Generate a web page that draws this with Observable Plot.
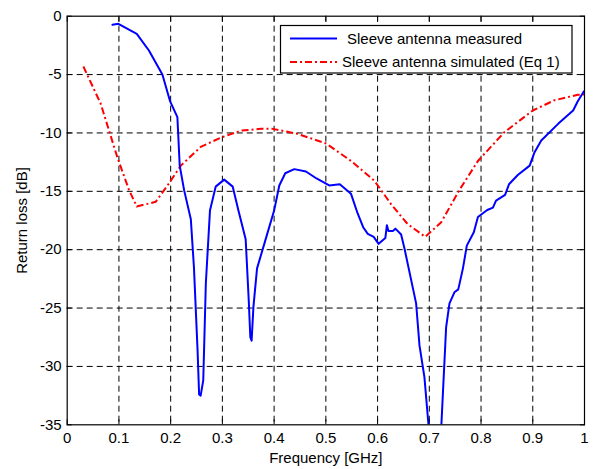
<!DOCTYPE html>
<html>
<head>
<meta charset="utf-8">
<script src="https://cdn.jsdelivr.net/npm/d3@7"></script>
<script src="https://cdn.jsdelivr.net/npm/@observablehq/plot@0.6"></script>
<style>
  html, body { margin: 0; padding: 0; background: #fff; }
  #wrap { position: relative; width: 593px; height: 469px; }
  #wrap svg { display: block; }
  #legend { position: absolute; left: 0; top: 0; }
</style>
</head>
<body>
<div id="wrap"></div>
<script>
// ---- data ----
const measuredFreq = [0.0875, 0.099, 0.1345, 0.158, 0.184, 0.199, 0.213, 0.2175, 0.226, 0.239, 0.245, 0.252, 0.255, 0.258, 0.263, 0.268, 0.276, 0.287, 0.3035, 0.32, 0.331, 0.345, 0.351, 0.354, 0.3565, 0.36, 0.367, 0.381, 0.400, 0.41, 0.4215, 0.439, 0.4615, 0.482, 0.5065, 0.527, 0.5485, 0.5615, 0.5725, 0.581, 0.5925, 0.602, 0.615, 0.618, 0.621, 0.6295, 0.6345, 0.6455, 0.652, 0.6745, 0.681, 0.6905, 0.699, 0.711, 0.723, 0.7325, 0.739, 0.7485, 0.756, 0.765, 0.7725, 0.786, 0.794, 0.812, 0.823, 0.829, 0.8465, 0.854, 0.871, 0.894, 0.9035, 0.9164, 0.949, 0.978, 0.987, 0.999];
const measuredDb = [-0.74, -0.65, -1.51, -2.94, -5.0, -7.3, -8.65, -12.8, -14.9, -17.4, -21.5, -28.6, -32.4, -32.5, -31.2, -22.9, -16.65, -14.6, -14.0, -14.6, -16.65, -19.1, -24.4, -27.5, -27.8, -24.9, -21.6, -19.5, -16.65, -14.5, -13.45, -13.1, -13.3, -13.9, -14.5, -14.4, -15.2, -16.9, -18.1, -18.65, -18.9, -19.5, -19.0, -17.9, -18.4, -18.4, -18.2, -18.7, -19.9, -24.6, -28.2, -30.9, -35.3, -40, -35.3, -26.65, -24.6, -23.65, -23.4, -21.6, -19.65, -18.5, -17.2, -16.6, -16.4, -15.8, -15.3, -14.4, -13.6, -12.8, -11.65, -10.65, -9.22, -8.08, -7.28, -6.43];

const simulatedFreq = [0.0313, 0.0648, 0.097, 0.1196, 0.1345, 0.171, 0.194, 0.2197, 0.258, 0.297, 0.336, 0.3745, 0.397, 0.4455, 0.5003, 0.5487, 0.594, 0.626, 0.658, 0.692, 0.723, 0.758, 0.794, 0.845, 0.9, 0.942, 0.987, 1.0];
const simulatedDb = [-4.31, -7.5, -12.1, -14.9, -16.3, -15.9, -14.5, -12.8, -11.2, -10.4, -9.8, -9.65, -9.65, -10.08, -10.9, -12.4, -14.1, -16.1, -17.8, -18.9, -17.65, -14.9, -12.4, -9.94, -8.08, -7.2, -6.73, -6.7];

const seriesNames = ["Sleeve antenna measured", "Sleeve antenna simulated (Eq 1)"];
const xTicks = [0, 0.1, 0.2, 0.3, 0.4, 0.5, 0.6, 0.7, 0.8, 0.9, 1];
const xTickLabels = ["0", "0.1", "0.2", "0.3", "0.4", "0.5", "0.6", "0.7", "0.8", "0.9", "1"];
const yTicks = [-35, -30, -25, -20, -15, -10, -5, 0];
const yTickLabels = ["-35", "-30", "-25", "-20", "-15", "-10", "-5", "0"];
const xLabel = "Frequency [GHz]";
const yLabel = "Return loss [dB]";

// ---- build tables ----
const measured = measuredFreq.map((f, i) => ({f, db: measuredDb[i]}));
const simulated = simulatedFreq.map((f, i) => ({f, db: simulatedDb[i]}));
const innerX = xTicks.filter(d => d > 0 && d < 1);
const innerY = yTicks.filter(d => d > -35 && d < 0);

const FONT = "'Liberation Sans', Arial, Helvetica, sans-serif";
const BLUE = "#0000ff", RED = "#ff0000";
const RED_DASH = "7,3,2,3";

const chart = Plot.plot({
  width: 593,
  height: 469,
  marginLeft: 66.7,
  marginRight: 9,
  marginTop: 15.7,
  marginBottom: 44.7,
  style: {fontFamily: FONT, fontSize: "15px", background: "#fff", color: "#000"},
  x: {domain: [0, 1], axis: null},
  y: {domain: [-35, 0], axis: null},
  marks: [
    Plot.gridX(innerX, {stroke: "#000", strokeOpacity: 1, strokeWidth: 1, strokeDasharray: "6,4"}),
    Plot.gridY(innerY, {stroke: "#000", strokeOpacity: 1, strokeWidth: 1, strokeDasharray: "6,4"}),
    // inward ticks on all four sides
    Plot.axisX(xTicks, {anchor: "bottom", tickSize: -5, text: null, stroke: "#000", label: null}),
    Plot.axisX(xTicks, {anchor: "top", tickSize: -5, text: null, stroke: "#000", label: null}),
    Plot.axisY(yTicks, {anchor: "left", tickSize: -5, text: null, stroke: "#000", label: null}),
    Plot.axisY(yTicks, {anchor: "right", tickSize: -5, text: null, stroke: "#000", label: null}),
    // tick labels
    Plot.axisX(xTicks, {anchor: "bottom", tickSize: 0, tickPadding: 8, tickFormat: (d, i) => xTickLabels[i], fill: "#000", fontSize: 15, label: null}),
    Plot.axisY(yTicks, {anchor: "left", tickSize: 0, tickPadding: 5.5, tickFormat: (d, i) => yTickLabels[i], fill: "#000", fontSize: 15, label: null}),
    Plot.line(simulated, {x: "f", y: "db", stroke: RED, strokeWidth: 2, strokeDasharray: RED_DASH, strokeLinecap: "butt", clip: true}),
    Plot.line(measured, {x: "f", y: "db", stroke: BLUE, strokeWidth: 2, clip: true}),
    Plot.frame({stroke: "#000", strokeWidth: 1.2}),
    Plot.text([xLabel], {frameAnchor: "bottom", dy: 33.5, textAnchor: "middle", lineAnchor: "middle", fontSize: 15, fill: "#000"}),
    Plot.text([yLabel], {frameAnchor: "left", dx: -45, rotate: -90, textAnchor: "middle", lineAnchor: "middle", fontSize: 15, fill: "#000"})
  ]
});

const wrap = document.getElementById("wrap");
wrap.appendChild(chart);

// ---- legend overlay ----
const lg = d3.select(wrap).append("svg")
  .attr("id", "legend")
  .attr("width", 593).attr("height", 469)
  .style("pointer-events", "none")
  .style("font-family", FONT).style("font-size", "15px");
lg.append("rect").attr("x", 280.5).attr("y", 25.5).attr("width", 291.5).attr("height", 47.5)
  .attr("fill", "#fff").attr("stroke", "#000").attr("stroke-width", 1.2);
const rows = [
  {name: seriesNames[0], color: BLUE, dash: null, y: 38.5, tx: 347},
  {name: seriesNames[1], color: RED, dash: RED_DASH, y: 62, tx: 342}
];
rows.forEach(r => {
  lg.append("line").attr("x1", 290).attr("x2", 337).attr("y1", r.y).attr("y2", r.y)
    .attr("stroke", r.color).attr("stroke-width", 2).attr("stroke-dasharray", r.dash);
  lg.append("text").attr("x", r.tx).attr("y", r.y).attr("dy", "0.35em").attr("fill", "#000").text(r.name);
});
</script>
</body>
</html>
